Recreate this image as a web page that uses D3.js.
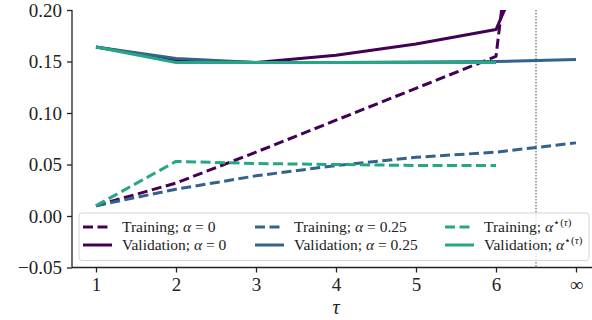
<!DOCTYPE html>
<html>
<head>
<meta charset="utf-8">
<script src="https://cdn.jsdelivr.net/npm/d3@7"></script>
<style>
  body { margin: 0; background: #fff; }
</style>
</head>
<body>
<div id="plot"></div>
<script>
// x positions: 1..6 then infinity drawn at 7
const taus = [1, 2, 3, 4, 5, 6, 7];
const tickLabels = ["1", "2", "3", "4", "5", "6", "\u221E"];
const yTicks = [-0.05, 0.00, 0.05, 0.10, 0.15, 0.20];

// training / validation errors per alpha setting
const trainA0 = [0.010, 0.032, 0.062, 0.093, 0.124, 0.155, 0.80];
const validA0 = [0.164, 0.151, 0.149, 0.156, 0.167, 0.181, 0.36];
const trainA25 = [0.010, 0.026, 0.039, 0.049, 0.057, 0.062, 0.071];
const validA25 = [0.164, 0.153, 0.149, 0.149, 0.1495, 0.150, 0.152];
const trainStar = [0.010, 0.053, 0.051, 0.050, 0.049, 0.049];
const validStar = [0.164, 0.149, 0.149, 0.149, 0.149, 0.149];

const purple = "#440154", blue = "#33628d", green = "#24a884";
const serif = "'Liberation Serif', 'Times New Roman', 'DejaVu Serif', serif";

const width = 592, height = 320;
const svg = d3.select("#plot").append("svg")
  .attr("width", width).attr("height", height);

const x = d3.scaleLinear().domain([0.7, 7.3]).range([72, 600]);
const y = d3.scaleLinear().domain([-0.05, 0.20]).range([267.5, 10]);

svg.append("clipPath").attr("id", "clip")
  .append("rect").attr("x", 72).attr("y", 10).attr("width", 528).attr("height", 257.5);

// dotted separator between finite and infinite tau
svg.append("line")
  .attr("x1", x(6.5)).attr("x2", x(6.5))
  .attr("y1", y(0.20)).attr("y2", y(-0.05))
  .attr("stroke", "#888").attr("stroke-width", 1.5)
  .attr("stroke-dasharray", "1.5,1.5");

const series = [
  { vals: trainA0, color: purple, dash: true },
  { vals: trainA25, color: blue, dash: true },
  { vals: trainStar, color: green, dash: true },
  { vals: validA0, color: purple, dash: false },
  { vals: validA25, color: blue, dash: false },
  { vals: validStar, color: green, dash: false }
];

const line = d3.line().x((d, i) => x(taus[i])).y(d => y(d));

const g = svg.append("g").attr("clip-path", "url(#clip)");
g.selectAll("path")
  .data(series)
  .enter().append("path")
  .attr("d", d => line(d.vals))
  .attr("fill", "none")
  .attr("stroke", d => d.color)
  .attr("stroke-width", 3)
  .attr("stroke-linejoin", "round")
  .attr("stroke-dasharray", d => d.dash ? "10,4.5" : null);

// axes
const yAxis = svg.append("g")
  .attr("transform", "translate(72,0)")
  .call(d3.axisLeft(y).tickValues(yTicks).tickFormat(d => d3.format(".2f")(d).replace("-", "\u2212")).tickSize(5).tickPadding(5));
const xAxis = svg.append("g")
  .attr("transform", "translate(0,267.5)")
  .call(d3.axisBottom(x).tickValues(taus).tickFormat((d, i) => tickLabels[i]).tickSize(5).tickPadding(5));

[xAxis, yAxis].forEach(a => {
  a.attr("font-family", null);
  a.select(".domain").attr("stroke", "#222").attr("stroke-width", 1.3);
  a.selectAll(".tick line").attr("stroke", "#222").attr("stroke-width", 1.3);
  a.selectAll(".tick text")
    .style("font-family", serif).style("font-size", "19px").attr("fill", "#222");
});
xAxis.select(".domain").attr("d", "M72,0H600");
yAxis.select(".domain").attr("d", "M0,10V267.5");

svg.append("text")
  .attr("x", x(4)).attr("y", 314)
  .attr("text-anchor", "middle")
  .style("font-family", serif)
  .style("font-size", "20px").style("font-style", "italic")
  .attr("fill", "#222")
  .text("\u03C4");

// legend
const legend = svg.append("g");
legend.append("rect")
  .attr("x", 79).attr("y", 213).attr("width", 510).attr("height", 47.5)
  .attr("rx", 3)
  .attr("fill", "#fff").attr("fill-opacity", 0.8)
  .attr("stroke", "#d5d5d5").attr("stroke-width", 1);

const legendItems = [
  { label: "Training; ", sym: "0", color: purple, dash: true, col: 0, row: 0 },
  { label: "Validation; ", sym: "0", color: purple, dash: false, col: 0, row: 1 },
  { label: "Training; ", sym: "0.25", color: blue, dash: true, col: 1, row: 0 },
  { label: "Validation; ", sym: "0.25", color: blue, dash: false, col: 1, row: 1 },
  { label: "Training; ", sym: null, color: green, dash: true, col: 2, row: 0 },
  { label: "Validation; ", sym: null, color: green, dash: false, col: 2, row: 1 }
];
const colX = [83, 255, 445];
const rowY = [227, 245];

const items = legend.selectAll("g.item")
  .data(legendItems)
  .enter().append("g")
  .attr("transform", d => `translate(${colX[d.col]},${rowY[d.row]})`);

items.append("line")
  .attr("x1", 0).attr("x2", 29).attr("y1", 0).attr("y2", 0)
  .attr("stroke", d => d.color).attr("stroke-width", 3)
  .attr("stroke-dasharray", d => d.dash ? "10,4.5" : null);

const label = items.append("text")
  .attr("x", 39).attr("y", 5)
  .style("font-family", serif)
  .style("font-size", "15.5px")
  .attr("fill", "#222");
label.append("tspan").text(d => d.label);
label.append("tspan").style("font-style", "italic").text("\u03B1");
label.filter(d => d.sym !== null).append("tspan").text(d => " = " + d.sym);
const sup = label.filter(d => d.sym === null);
sup.append("tspan").attr("dy", -6).style("font-size", "11px").text("\u22C6(");
sup.append("tspan").style("font-size", "11px").style("font-style", "italic").text("\u03C4");
sup.append("tspan").style("font-size", "11px").text(")");
</script>
</body>
</html>
